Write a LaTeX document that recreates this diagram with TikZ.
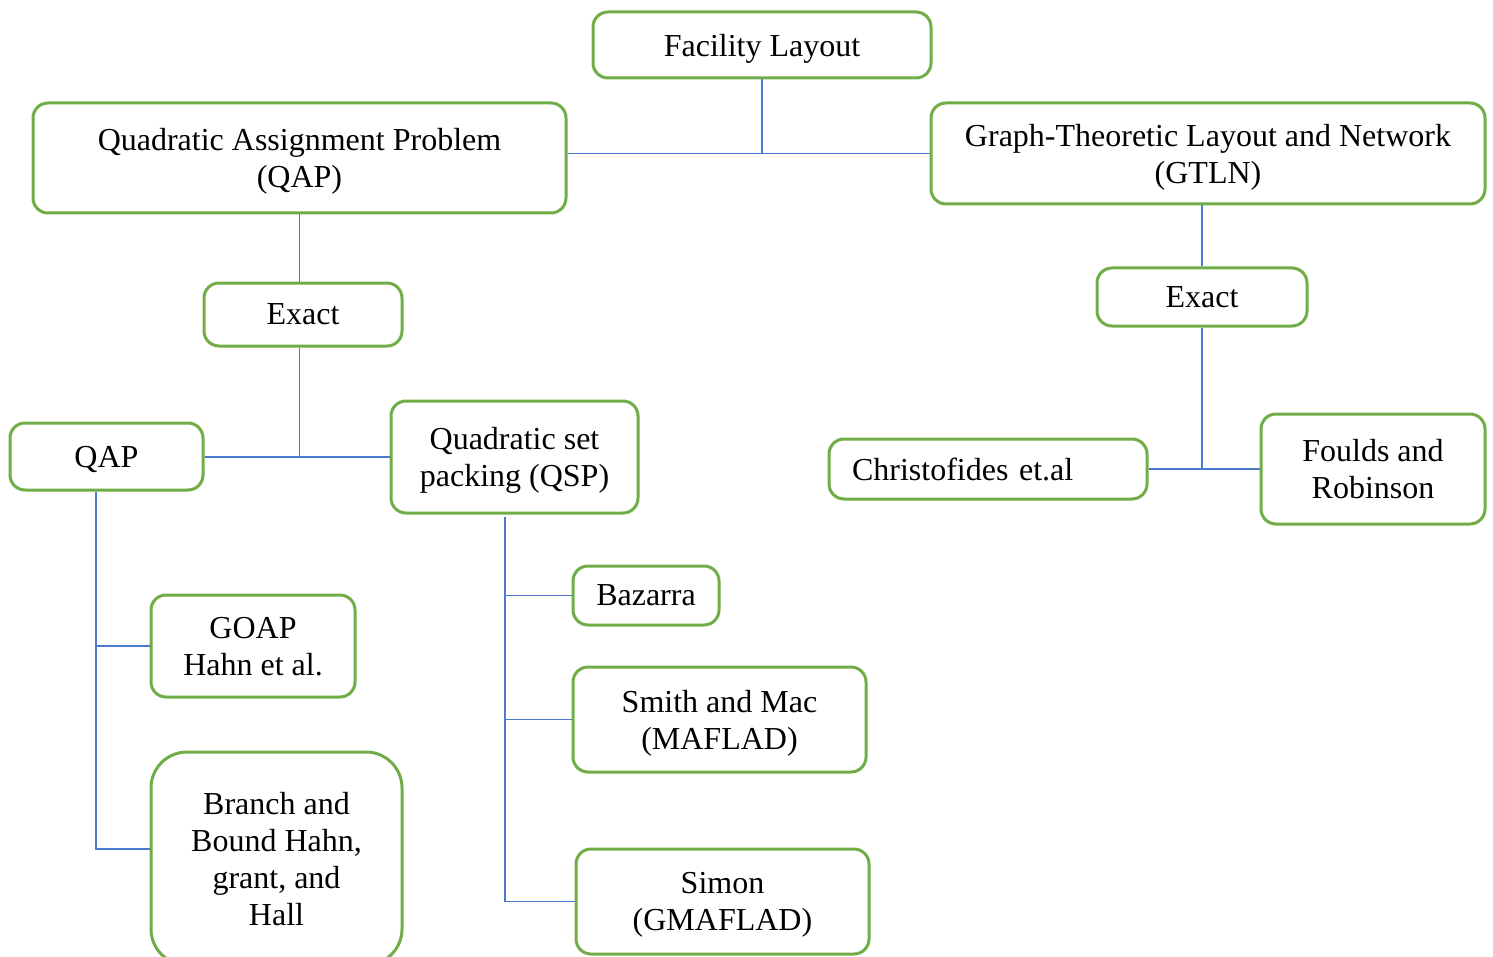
\documentclass[tikz,border=0pt]{standalone}
\usepackage{fontspec}
\setmainfont{Liberation Serif}
\definecolor{boxgreen}{HTML}{70AD47}
\definecolor{linkblue}{HTML}{4A7BD0}
\begin{document}
\begin{tikzpicture}[x=0.5pt,y=-0.5pt,
  box/.style={draw=boxgreen, line width=1.5pt, rounded corners=7.5pt, fill=white,
    align=center, inner sep=0pt, text depth=0pt, font=\fontsize{16}{18.5}\selectfont},
  link/.style={draw=linkblue, line width=0.9pt}]
\useasboundingbox (0,0) rectangle (1493,957);
\clip (0,0) rectangle (1493,957);

% top level
\node[box, minimum width=169pt, minimum height=33pt] (fl) at (762,45) {Facility Layout};
\node[box, minimum width=266.5pt, minimum height=55pt] (qap) at (299.5,158)
  {Quadratic Assignment Problem\\(QAP)};
\node[box, minimum width=277pt, minimum height=50.5pt] (gt) at (1208,153.5)
  {Graph-Theoretic Layout and Network\\(GTLN)};

% second level
\node[box, minimum width=99pt, minimum height=31.5pt] (exl) at (303,314.5) {Exact};
\node[box, minimum width=105pt, minimum height=29pt] (exr) at (1202,297) {Exact};

% QAP branch
\node[box, minimum width=96.5pt, minimum height=33.5pt] (qs) at (106.5,456.5) {QAP};
\node[box, minimum width=123.5pt, minimum height=56pt] (qsp) at (514.5,457)
  {Quadratic set\\packing (QSP)};
\node[box, minimum width=102pt, minimum height=51pt] (go) at (253,646)
  {GOAP\\Hahn et al.};
\node[box, rounded corners=18pt, minimum width=125.5pt, minimum height=106.5pt] (br) at (276.5,858.5)
  {Branch and\\Bound Hahn,\\grant, and\\Hall};
\node[box, minimum width=73pt, minimum height=29.5pt] (bz) at (646,595.5) {Bazarra};
\node[box, minimum width=146.5pt, minimum height=52.5pt] (sm) at (719.5,719.5)
  {Smith and Mac\\(MAFLAD)};
\node[box, minimum width=146.5pt, minimum height=52.5pt] (si) at (722.5,901.5)
  {Simon\\(GMAFLAD)};

% GTLN branch
\node[box, align=left, text width=136pt, inner xsep=11.5pt, minimum height=30pt] (ch) at (988,469)
  {Christofides et.al};
\node[box, minimum width=112pt, minimum height=55pt] (fo) at (1373,469)
  {Foulds and\\Robinson};

% connectors
\coordinate (hub) at (fl.south |- gt.west);
\draw[link] (fl.south) -- (hub);
\draw[link] (qap.east |- hub) -- (gt.west);

\draw[link] (qap.south) -- (qap.south |- exl.north);
\coordinate (j1) at (qap.south |- qsp.west);
\draw[link] (qap.south |- exl.south) -- (j1);
\draw[link] (qs.east |- j1) -- (qsp.west);

\coordinate (lc) at (96,0);
\coordinate (bj) at ([yshift=4.75pt]br.west);
\draw[link] (qs.south -| lc) -- (lc |- bj) -- (bj);
\draw[link] (lc |- go.west) -- (go.west);

\coordinate (qc) at (505,517);
\draw[link] (qc) -- (qc |- si.west) -- (si.west);
\draw[link] (qc |- bz.west) -- (bz.west);
\draw[link] (qc |- sm.west) -- (sm.west);

\draw[link] (exr.north |- gt.south) -- (exr.north);
\coordinate (j2) at (exr.south |- ch.east);
\draw[link] (exr.south) -- (j2);
\draw[link] (ch.east) -- (fo.west);
\end{tikzpicture}
\end{document}
